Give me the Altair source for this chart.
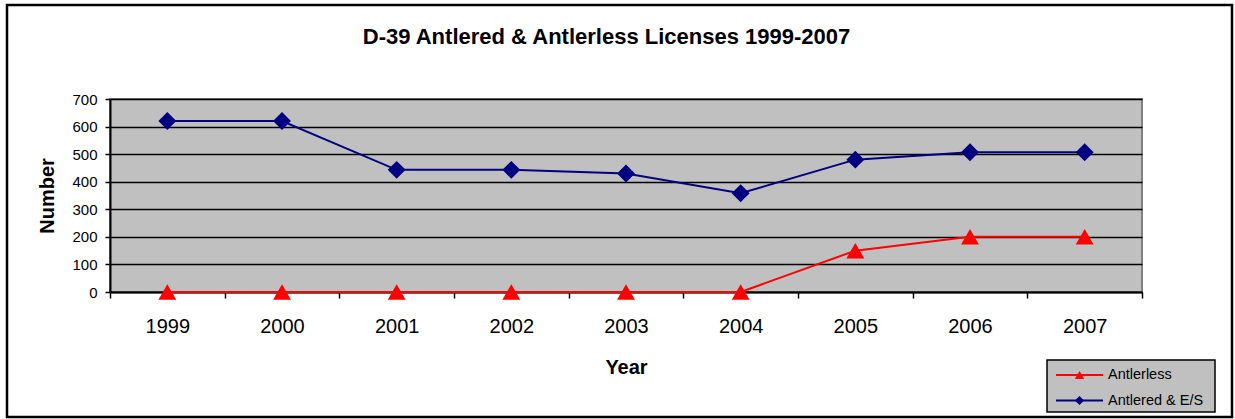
import altair as alt
import pandas as pd

years = [1999, 2000, 2001, 2002, 2003, 2004, 2005, 2006, 2007]
antlerless = [0, 0, 0, 0, 0, 0, 150, 200, 200]
antlered_es = [620, 620, 443, 443, 430, 358, 480, 507, 507]
series_names = ["Antlerless", "Antlered & E/S"]
series_colors = ["#FF0000", "#000080"]
series_shapes = ["triangle-up", "diamond"]
y_ticks = [0, 100, 200, 300, 400, 500, 600, 700]
title_text = "D-39 Antlered & Antlerless Licenses 1999-2007"

rows = []
for i, yr in enumerate(years):
    rows.append({"Year": str(yr), "Number": antlerless[i], "Series": series_names[0]})
    rows.append({"Year": str(yr), "Number": antlered_es[i], "Series": series_names[1]})
df = pd.DataFrame(rows)
legend_df = pd.DataFrame({"Series": series_names})
one = pd.DataFrame({"k": [0]})

FONT = "Liberation Sans"
W, H = 1032, 193

color_enc = alt.Color("Series:N", scale=alt.Scale(domain=series_names, range=series_colors), legend=None)
shape_enc = alt.Shape("Series:N", scale=alt.Scale(domain=series_names, range=series_shapes), legend=None)

x_enc = alt.X(
    "Year:O",
    scale=alt.Scale(type="band", paddingInner=0, paddingOuter=0),
    axis=alt.Axis(
        title="Year", tickBand="extent", labelAngle=0, grid=False,
        labelFont=FONT, labelFontSize=20, labelColor="black", labelPadding=18,
        tickSize=6, tickColor="black", tickWidth=1.5,
        domainColor="black", domainWidth=2,
        titleFont=FONT, titleFontSize=20, titleFontWeight="bold", titleColor="black",
        titleX=W / 2, titleY=81, titleAlign="center", titleBaseline="alphabetic",
    ),
)
y_enc = alt.Y(
    "Number:Q",
    scale=alt.Scale(domain=[0, 700], nice=False, zero=True),
    axis=alt.Axis(
        values=y_ticks, title="Number",
        labelFont=FONT, labelFontSize=15, labelColor="black", labelPadding=8,
        tickSize=5, tickColor="black", tickWidth=1.5,
        domainColor="black", domainWidth=2,
        grid=True, gridColor="black", gridWidth=1.5, gridOpacity=1,
        titleFont=FONT, titleFontSize=20, titleFontWeight="bold", titleColor="black",
        titleX=-57, titleY=H / 2, titleAngle=270, titleAlign="center", titleBaseline="alphabetic",
    ),
)

lines = alt.Chart(df).mark_line(strokeWidth=2).encode(x=x_enc, y=y_enc, color=color_enc)
points = alt.Chart(df).mark_point(filled=True, opacity=1, size=320).encode(
    x=x_enc, y=y_enc, color=color_enc, shape=shape_enc
)
main = alt.layer(lines, points)

# legend (custom, Excel-style)
leg_y = alt.Y("Series:N", scale=alt.Scale(type="point", domain=series_names, range=[276, 301.5], padding=0), axis=None)
leg_box = alt.Chart(one).mark_rect(fill="#C0C0C0", stroke="black", strokeWidth=1.5).encode(
    x=alt.value(937), x2=alt.value(1105), y=alt.value(261), y2=alt.value(313)
)
leg_lines = alt.Chart(legend_df).mark_rule(strokeWidth=2).encode(
    x=alt.value(946), x2=alt.value(993), y=leg_y, color=color_enc
)
leg_pts = alt.Chart(legend_df).mark_point(filled=True, opacity=1, size=85).encode(
    x=alt.value(969.5), y=leg_y, color=color_enc, shape=shape_enc
)
leg_text = alt.Chart(legend_df).mark_text(align="left", baseline="middle", font=FONT, fontSize=14.5, color="black").encode(
    x=alt.value(998), y=leg_y, text="Series:N"
)
legend = alt.layer(leg_box, leg_lines, leg_pts, leg_text)

outer = alt.Chart(one).mark_rect(fillOpacity=0, stroke="black", strokeWidth=2.5).encode(
    x=alt.value(-103), x2=alt.value(1122), y=alt.value(-94), y2=alt.value(318)
)
title = alt.Chart(one).mark_text(font=FONT, fontSize=22, fontWeight="bold", align="center", baseline="alphabetic", color="black").encode(
    x=alt.value(496.5), y=alt.value(-55), text=alt.value(title_text)
)

chart = alt.layer(main, legend, outer, title).resolve_scale(y="independent").properties(
    width=W, height=H,
    autosize=alt.AutoSizeParams(type="none"),
    padding={"left": 110, "top": 99, "right": 93, "bottom": 127},
    background="white",
).configure_view(fill="#C0C0C0", stroke="#808080", strokeWidth=2)

chart.save("out.html", embed_options={"renderer": "svg", "actions": False})
